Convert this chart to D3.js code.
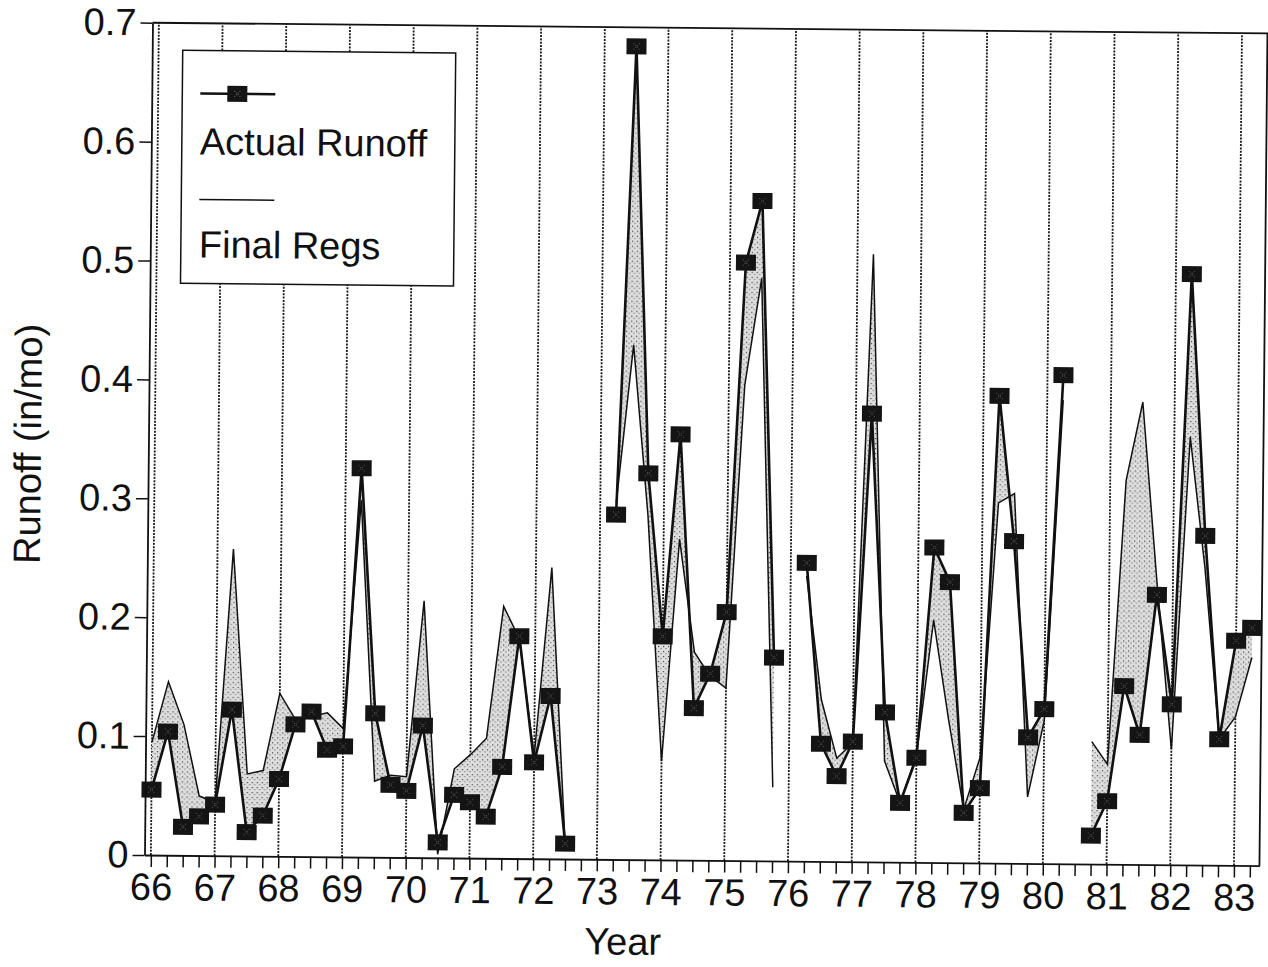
<!DOCTYPE html>
<html>
<head>
<meta charset="utf-8">
<script src="https://cdn.jsdelivr.net/npm/d3@7"></script>
<style>
  html, body { margin: 0; padding: 0; background: #fff; }
  svg { display: block; }
  text { font-family: "Liberation Sans", Arial, Helvetica, sans-serif; fill: #111; }
</style>
</head>
<body>
<svg id="chart" width="1268" height="967"></svg>
<script>
// Year labels along the x axis (one tick label per calendar year)
const years = [66, 67, 68, 69, 70, 71, 72, 73, 74, 75, 76, 77, 78, 79, 80, 81, 82, 83];
const yearLabels = ["66", "67", "68", "69", "70", "71", "72", "73", "74", "75", "76", "77", "78", "79", "80", "81", "82", "83"];
const firstQuarter = 66;   // series are quarterly, starting in 1966

// Quarterly runoff, in/mo (null = no record)
const actualRunoff = [
  0.055, 0.104, 0.024, 0.033,   // 66
  0.043, 0.123, 0.020, 0.034,   // 67
  0.065, 0.111, 0.122, 0.090,   // 68
  0.093, 0.327, 0.121, 0.061,   // 69
  0.056, 0.111, 0.013, 0.053,   // 70
  0.047, 0.035, 0.077, 0.187,   // 71
  0.081, 0.137, 0.013, null,    // 72
  null,  0.290, 0.684, 0.325,   // 73
  0.188, 0.358, 0.128, 0.157,   // 74
  0.209, 0.503, 0.555, 0.171,   // 75
  null,  0.251, 0.099, 0.072,   // 76
  0.101, 0.377, 0.126, 0.050,   // 77
  0.088, 0.265, 0.236, 0.042,   // 78
  0.063, 0.393, 0.271, 0.106,   // 79
  0.130, 0.411, null,  0.024,   // 80
  0.053, 0.150, 0.109, 0.227,   // 81
  0.135, 0.497, 0.277, 0.106,   // 82
  0.189, 0.200                  // 83
];

// Runoff estimated by the final regressions, in/mo
const finalRegs = [
  0.095, 0.146, 0.110, 0.050,   // 66
  0.045, 0.258, 0.069, 0.072,   // 67
  0.137, 0.115, 0.118, 0.121,   // 68
  0.108, 0.300, 0.064, 0.069,   // 69
  0.068, 0.216, 0.003, 0.075,   // 70
  0.087, 0.101, 0.212, 0.185,   // 71
  0.086, 0.245, 0.012, null,    // 72
  null,  0.300, 0.433, 0.290,   // 73
  0.083, 0.270, 0.175, 0.155,   // 74
  0.145, 0.400, 0.490, 0.062,   // 75
  null,  0.240, 0.136, 0.087,   // 76
  0.100, 0.511, 0.085, 0.050,   // 77
  0.090, 0.204, 0.120, 0.045,   // 78
  0.089, 0.303, 0.311, 0.056,   // 79
  0.120, 0.390, null,  0.103,   // 80
  0.084, 0.323, 0.389, 0.237,   // 81
  0.097, 0.360, 0.250, 0.106,   // 82
  0.125, 0.175                  // 83
];

const yTicks = [0, 0.1, 0.2, 0.3, 0.4, 0.5, 0.6, 0.7];
const yTickLabels = ["0", "0.1", "0.2", "0.3", "0.4", "0.5", "0.6", "0.7"];

const seriesNames = ["Actual Runoff", "Final Regs"];

// ---------------------------------------------------------------
const svg = d3.select("#chart");
const plotL = 144.5, plotR = 1259.5, plotT = 22.7, plotB = 855;
const FONT = 38;

const quarters = actualRunoff.map((_, i) => firstQuarter + i / 4);
const rows = quarters.map((t, i) => ({ t, a: actualRunoff[i], p: finalRegs[i] }));

const x = d3.scaleLinear().domain([65.9, 83.4]).range([plotL, plotR]);
const y = d3.scaleLinear().domain([0, 0.7]).range([plotB, plotT]);

// the printed sheet sits slightly askew
const g = svg.append("g").attr("transform", `rotate(0.55, ${plotL}, ${plotB})`);

// stipple used between the two curves
const defs = svg.append("defs");
const pat = defs.append("pattern")
  .attr("id", "stipple").attr("patternUnits", "userSpaceOnUse")
  .attr("width", 5).attr("height", 5);
pat.append("rect").attr("width", 5).attr("height", 5).attr("fill", "#dedede");
pat.append("rect").attr("x", 1).attr("y", 1).attr("width", 1.2).attr("height", 1.2).attr("fill", "#444");
pat.append("rect").attr("x", 3.5).attr("y", 3).attr("width", 1).attr("height", 1.2).attr("fill", "#666");

// dotted year grid
g.append("g").selectAll("line").data(years).join("line")
  .attr("x1", d => x(d)).attr("x2", d => x(d))
  .attr("y1", y(0)).attr("y2", y(0.7))
  .attr("stroke", "#1a1a1a").attr("stroke-width", 1.8)
  .attr("stroke-dasharray", "2,1.3");

// frame: top and right edges
g.append("path")
  .attr("d", `M${plotL},${plotT}H${plotR}V${plotB}`)
  .attr("fill", "none").attr("stroke", "#111").attr("stroke-width", 1.8);

// shaded band between actual and estimated runoff
const band = d3.area()
  .defined(d => d.a != null && d.p != null)
  .x(d => x(d.t)).y0(d => y(d.a)).y1(d => y(d.p));
g.append("path").datum(rows).attr("d", band)
  .attr("fill", "url(#stipple)").attr("stroke", "none");

// Final Regs line
const predLine = d3.line().defined(d => d.p != null).x(d => x(d.t)).y(d => y(d.p));
g.append("path").datum(rows).attr("d", predLine)
  .attr("fill", "none").attr("stroke", "#111").attr("stroke-width", 1.5)
  .attr("stroke-linejoin", "miter");

// Actual Runoff line + square markers
const actLine = d3.line().defined(d => d.a != null).x(d => x(d.t)).y(d => y(d.a));
g.append("path").datum(rows).attr("d", actLine)
  .attr("fill", "none").attr("stroke", "#111").attr("stroke-width", 2.6)
  .attr("stroke-linejoin", "miter");

const mw = 20, mh = 16;
const marks = g.append("g").selectAll("g").data(rows.filter(d => d.a != null)).join("g")
  .attr("transform", d => `translate(${x(d.t)},${y(d.a)})`);
marks.append("rect").attr("x", -mw / 2).attr("y", -mh / 2).attr("width", mw).attr("height", mh)
  .attr("fill", "#141414");
marks.append("path").attr("d", "M-3,-3L3,3M3,-3L-3,3")
  .attr("stroke", "#555").attr("stroke-width", 1).attr("stroke-dasharray", "1,1.5");

// y axis
const yAxis = d3.axisLeft(y).tickValues(yTicks).tickSize(12).tickSizeOuter(0).tickPadding(4)
  .tickFormat((d, i) => yTickLabels[i]);
const gy = g.append("g").attr("transform", `translate(${plotL},0)`).call(yAxis);
gy.select(".domain").attr("stroke", "#111").attr("stroke-width", 1.8);
gy.selectAll(".tick line").attr("stroke", "#111").attr("stroke-width", 1.5);
gy.selectAll(".tick text").attr("font-size", FONT).attr("fill", "#111")
  .style("font-family", '"Liberation Sans", Arial, sans-serif');

// x axis: a tick every quarter, labels on whole years
const xAxis = d3.axisBottom(x).tickValues(quarters).tickSize(12).tickSizeOuter(0).tickPadding(6)
  .tickFormat(d => { const k = years.indexOf(d); return k >= 0 ? yearLabels[k] : ""; });
const gx = g.append("g").attr("transform", `translate(0,${plotB})`).call(xAxis);
gx.select(".domain").attr("stroke", "#111").attr("stroke-width", 1.8);
gx.selectAll(".tick line").attr("stroke", "#111").attr("stroke-width", 1.5);
gx.selectAll(".tick text").attr("font-size", FONT).attr("fill", "#111")
  .style("font-family", '"Liberation Sans", Arial, sans-serif');

// axis titles
g.append("text").attr("x", 623.5).attr("y", 950).attr("text-anchor", "middle")
  .attr("font-size", FONT).text("Year");
g.append("text").attr("transform", "translate(37,445) rotate(-90)").attr("text-anchor", "middle")
  .attr("font-size", FONT).text("Runoff (in/mo)");

// legend
const lg = g.append("g");
lg.append("rect").attr("x", 175).attr("y", 50).attr("width", 273).attr("height", 233)
  .attr("fill", "#fff").attr("stroke", "#111").attr("stroke-width", 1.5);
lg.append("line").attr("x1", 193).attr("x2", 268).attr("y1", 93).attr("y2", 93)
  .attr("stroke", "#111").attr("stroke-width", 2.6);
lg.append("rect").attr("x", 230 - mw / 2).attr("y", 93 - mh / 2).attr("width", mw).attr("height", mh)
  .attr("fill", "#141414");
lg.append("path").attr("d", `M${227},${90}L${233},${96}M${233},${90}L${227},${96}`)
  .attr("stroke", "#666").attr("stroke-width", 1).attr("stroke-dasharray", "1,1.5");
lg.append("text").attr("x", 193).attr("y", 154).attr("font-size", FONT).text(seriesNames[0]);
lg.append("line").attr("x1", 193).attr("x2", 268).attr("y1", 199).attr("y2", 199)
  .attr("stroke", "#111").attr("stroke-width", 1.4);
lg.append("text").attr("x", 193).attr("y", 257).attr("font-size", FONT).text(seriesNames[1]);
</script>
</body>
</html>
